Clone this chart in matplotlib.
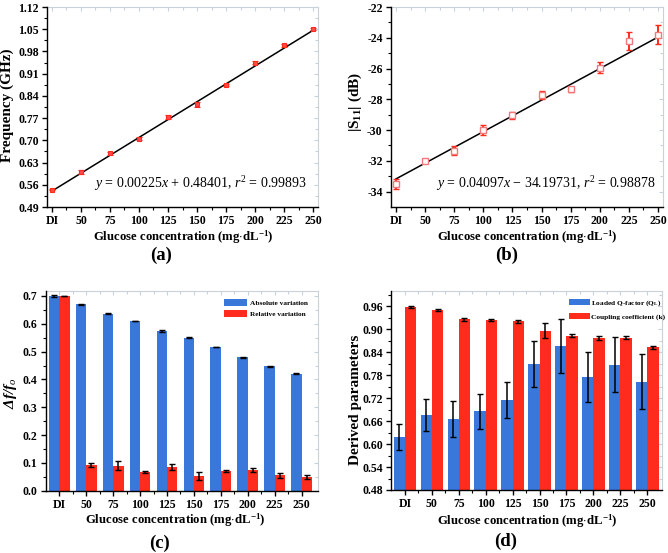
import matplotlib
matplotlib.use('Agg')
import matplotlib.pyplot as plt
import numpy as np

plt.rcParams['font.family'] = ['Liberation Serif', 'DejaVu Serif']
plt.rcParams['font.weight'] = 'bold'
plt.rcParams['mathtext.fontset'] = 'custom'
plt.rcParams['mathtext.rm'] = 'Liberation Serif:normal'
plt.rcParams['mathtext.it'] = 'Liberation Serif:italic:normal'
plt.rcParams['mathtext.bf'] = 'Liberation Serif:bold'

# ---------------- data ----------------
conc_labels = ['DI', '50', '75', '100', '125', '150', '175', '200', '225', '250']
conc_pos = [25, 50, 75, 100, 125, 150, 175, 200, 225, 250]

freq = [0.545, 0.600, 0.659, 0.705, 0.774, 0.813, 0.874, 0.944, 0.999, 1.050]
freq_err = [0.003, 0.005, 0.004, 0.004, 0.006, 0.007, 0.003, 0.005, 0.004, 0.004]
freq_slope, freq_int = 0.00225, 0.48401

s11 = [-33.5, -32.0, -31.35, -30.0, -29.05, -27.7, -27.35, -25.95, -24.2, -23.8]
s11_err = [0.3, 0.1, 0.3, 0.35, 0.2, 0.25, 0.15, 0.35, 0.6, 0.6]
s11_slope, s11_int = 0.04097, -34.19731

abs_var = [0.700, 0.670, 0.637, 0.610, 0.574, 0.550, 0.517, 0.480, 0.448, 0.420]
abs_err = [0.002, 0.002, 0.002, 0.001, 0.002, 0.002, 0.001, 0.002, 0.002, 0.002]
rel_var = [0.700, 0.092, 0.090, 0.067, 0.085, 0.053, 0.071, 0.074, 0.055, 0.049]
rel_err = [0.001, 0.008, 0.016, 0.003, 0.011, 0.013, 0.005, 0.007, 0.008, 0.006]

q_loaded = [0.619, 0.676, 0.664, 0.685, 0.715, 0.810, 0.855, 0.774, 0.807, 0.763]
q_err = [0.034, 0.041, 0.047, 0.046, 0.046, 0.060, 0.070, 0.065, 0.072, 0.072]
k_coup = [0.958, 0.950, 0.925, 0.923, 0.920, 0.896, 0.883, 0.877, 0.877, 0.852]
k_err = [0.002, 0.002, 0.003, 0.003, 0.003, 0.020, 0.004, 0.005, 0.004, 0.005]

BLUE = '#3a77da'
RED = '#ff2b1c'
GRAY = '#c9d2da'

TICK_FS = 8.5
XLAB_FS = 9.2
YLAB_FS = 11
EQ_FS = 10
PANEL_FS = 13.5
LEG_FS = 5.3

W, H = 668, 553
fig = plt.figure(figsize=(W / 100, H / 100), dpi=100)


def add_ax(left, top, right, bottom):
    return fig.add_axes([left / W, 1 - bottom / H, (right - left) / W, (bottom - top) / H])


def fpos(x, y):
    return x / W, 1 - y / H


def style(ax, xlim, ylim, xt, xminor, yt, yminor, xlabels, ylabels):
    ax.set_xlim(*xlim)
    ax.set_ylim(*ylim)
    ax.set_xticks(xt)
    ax.set_xticklabels(xlabels)
    ax.set_xticks(xminor, minor=True)
    ax.set_yticks(yt)
    ax.set_yticklabels(ylabels)
    ax.set_yticks(yminor, minor=True)
    ax.tick_params(which='major', direction='out', length=3.5, width=1.0,
                   labelsize=TICK_FS, pad=2.5)
    ax.tick_params(which='minor', direction='out', length=2.0, width=0.8)
    for s in ['top', 'right']:
        ax.spines[s].set_visible(False)
    for s in ['left', 'bottom']:
        ax.spines[s].set_linewidth(1.0)
    sx = ax.secondary_xaxis('top')
    sx.set_xticks(xt)
    sx.set_xticks(xminor, minor=True)
    sx.tick_params(which='major', direction='in', length=3, width=0.8, colors=GRAY,
                   labeltop=False, labelbottom=False)
    sx.tick_params(which='minor', direction='in', length=2, width=0.8, colors=GRAY,
                   labeltop=False, labelbottom=False)
    sx.spines['top'].set_color(GRAY)
    sy = ax.secondary_yaxis('right')
    sy.set_yticks(yt)
    sy.set_yticks(yminor, minor=True)
    sy.tick_params(which='major', direction='in', length=3, width=0.8, colors=GRAY,
                   labelright=False, labelleft=False)
    sy.tick_params(which='minor', direction='in', length=2, width=0.8, colors=GRAY,
                   labelright=False, labelleft=False)
    sy.spines['right'].set_color(GRAY)


XLAB = r'Glucose concentration (mg$\cdot$dL$^{\mathbf{-1}}$)'

# ---------------- (a) ----------------
axa = add_ax(47, 7, 318, 207)
fit_x = np.array([conc_pos[0], conc_pos[-1]], dtype=float)
axa.plot(fit_x, freq_slope * fit_x + freq_int, color='black', lw=1.1, zorder=2)
axa.errorbar(conc_pos, freq, yerr=freq_err, fmt='s', ms=3.4, mfc='#ff4a4a', mec=RED,
             mew=0.8, ecolor=RED, elinewidth=1.3, capsize=2, capthick=1.2, zorder=3)
yt_a = np.round(np.arange(0.49, 1.121, 0.07), 2)
style(axa, (20.7, 254.3), (0.49, 1.12), conc_pos,
      [p + 12.5 for p in conc_pos[:-1]], yt_a, yt_a[:-1] + 0.035,
      conc_labels, ['%.2f' % v for v in yt_a])
fig.text(*fpos(307, 184),
         r'$y$ = 0.00225$x$ + 0.48401, $r^2$ = 0.99893',
         ha='right', va='center', fontsize=EQ_FS, fontweight='normal')
fig.text(*fpos(7.3, 105), 'Frequency (GHz)', rotation=90, ha='center', va='center',
         fontsize=YLAB_FS)
fig.text(*fpos(183, 237), XLAB, ha='center', va='center', fontsize=XLAB_FS)
fig.text(*fpos(161, 255), '(a)', ha='center', va='center', fontsize=PANEL_FS)

# ---------------- (b) ----------------
axb = add_ax(391, 7, 663, 207)
axb.plot(fit_x, s11_slope * fit_x + s11_int, color='black', lw=1.1, zorder=2)
axb.errorbar(conc_pos, s11, yerr=s11_err, fmt='s', ms=5, mfc='white', mec='#f07a7a',
             mew=1.0, ecolor=RED, elinewidth=1.4, capsize=2.2, capthick=1.2, zorder=3)
yt_b = np.arange(-34, -21, 2)
style(axb, (20.7, 254.3), (-35, -22), conc_pos,
      [p + 12.5 for p in conc_pos[:-1]], yt_b, yt_b[:-1] + 1,
      conc_labels, ['%d' % v for v in yt_b])
fig.text(*fpos(655.7, 183.3),
         r'$y$ = 0.04097$x$ $-$ 34.19731, $r^2$ = 0.98878',
         ha='right', va='center', fontsize=EQ_FS, fontweight='normal')
fig.text(*fpos(355, 102), r'|S$_{\mathbf{11}}$| (dB)', rotation=90, ha='center',
         va='center', fontsize=YLAB_FS)
fig.text(*fpos(527.3, 237), XLAB, ha='center', va='center', fontsize=XLAB_FS)
fig.text(*fpos(507, 255), '(b)', ha='center', va='center', fontsize=PANEL_FS)

# ---------------- (c) ----------------
axc = add_ax(45.7, 290.7, 318.3, 490.7)
idx = np.arange(len(conc_labels))
wc = 0.385
eb_kw = dict(ecolor='black', elinewidth=1.1, capsize=2.2, capthick=1.0)
axc.bar(idx - wc / 2, abs_var, wc, yerr=abs_err, color=BLUE, error_kw=eb_kw,
        label='Absolute variation')
axc.bar(idx + wc / 2, rel_var, wc, yerr=rel_err, color=RED, error_kw=eb_kw,
        label='Relative variation')
yt_c = np.round(np.arange(0, 0.71, 0.1), 1)
style(axc, (-0.505, 9.62), (0, 0.719), idx, idx[:-1] + 0.5, yt_c, yt_c[:-1] + 0.05,
      conc_labels, ['%.1f' % v for v in yt_c])
axc.legend(loc='upper left', bbox_to_anchor=fpos(224.3, 298.5),
           bbox_transform=fig.transFigure,
           frameon=False, fontsize=LEG_FS, handlelength=3.05, handleheight=1.2,
           handletextpad=0.45, labelspacing=0.5, borderpad=0, borderaxespad=0)
fig.text(*fpos(10.8, 393), r'Δf/f$_{\mathit{o}}$', rotation=90, ha='center',
         va='center', fontsize=YLAB_FS, fontstyle='italic', fontweight='bold')
fig.text(*fpos(175, 520), XLAB, ha='center', va='center', fontsize=XLAB_FS)
fig.text(*fpos(159, 543), '(c)', ha='center', va='center', fontsize=PANEL_FS)

# ---------------- (d) ----------------
axd = add_ax(391.3, 290.7, 662.3, 490)
wd = 0.42
axd.bar(idx - wd / 2, q_loaded, wd, yerr=q_err, color=BLUE, error_kw=eb_kw,
        label=r'Loaded Q-factor (Q$_{\mathbf{L}}$)')
axd.bar(idx + wd / 2, k_coup, wd, yerr=k_err, color=RED, error_kw=eb_kw,
        label='Coupling coefficient (k)')
yt_d = np.round(np.arange(0.48, 0.961, 0.06), 2)
style(axd, (-0.51, 9.56), (0.48, 1.0), idx, idx[:-1] + 0.5, yt_d, yt_d + 0.03,
      conc_labels, ['%.2f' % v for v in yt_d])
axd.legend(loc='upper left', bbox_to_anchor=fpos(569, 298.5),
           bbox_transform=fig.transFigure,
           frameon=False, fontsize=LEG_FS, handlelength=2.8, handleheight=0.9,
           handletextpad=0.25, labelspacing=0.6, borderpad=0, borderaxespad=0)
fig.text(*fpos(355, 400), 'Derived parameters', rotation=90, ha='center', va='center',
         fontsize=YLAB_FS)
fig.text(*fpos(527.3, 520.7), XLAB, ha='center', va='center', fontsize=XLAB_FS)
fig.text(*fpos(506, 541.7), '(d)', ha='center', va='center', fontsize=PANEL_FS)

fig.savefig('out.png', dpi=100)
